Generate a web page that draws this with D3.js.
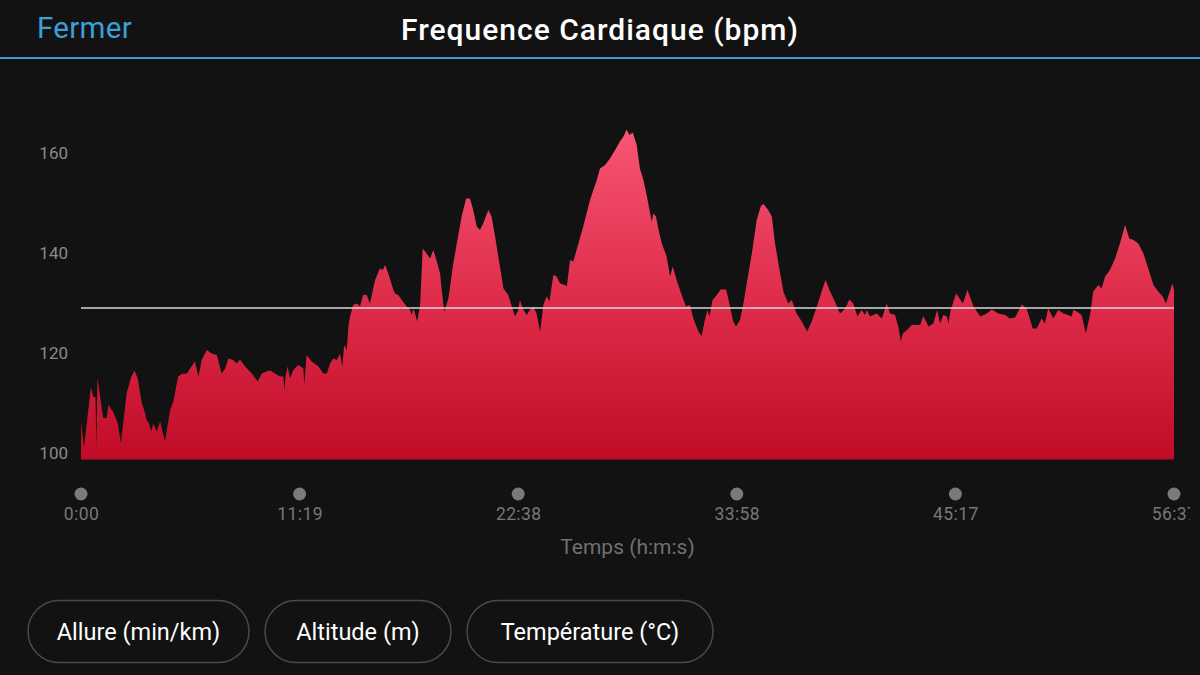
<!DOCTYPE html>
<html>
<head>
<meta charset="utf-8">
<script src="https://cdn.jsdelivr.net/npm/d3@7"></script>
<style>
  html, body { margin: 0; padding: 0; background: #121212; }
  svg { display: block; }
</style>
</head>
<body>
<svg id="chart" width="1200" height="675"></svg>
<script>
// ---- data ----
const timeSec = [0,9,31,38,45,48,51,64,69,80,85,100,114,124,142,155,166,176,189,199,204,211,218,225,235,246,253,261,277,287,302,313,329,339,354,365,375,391,406,422,437,448,458,473,484,494,510,531,549,562,577,587,603,618,629,632,636,642,650,660,675,691,694,701,717,738,753,764,774,784,795,805,812,818,826,
831,836,846,857,867,877,888,898,914,929,938,945,955,971,976,986,997,1012,1023,1028,1033,1038,1045,1054,1062,1074,1085,1095,1106,1116,1121,1129,1142,1157,1168,1183,1197,1209,1219,1230,1240,1250,1266,1276,1287,1297,1313,1328,1339,1349,1359,1364,1373,1385,1395,1406,1416,1427,1437,1447,1456,1468,1478,1489,1504,1510,1520,1530,1546,1561,1582,1603,
1613,1629,1644,1660,1675,1686,1696,1704,1715,1727,1737,1748,1758,1766,1774,1779,1787,1794,1805,1820,1831,1839,1851,1867,1880,1893,1903,1919,1929,1939,1947,1953,1963,1976,1988,2005,2017,2027,2036,2048,2058,2069,2085,2100,2113,2121,2136,2147,2157,2173,2183,2198,2209,2224,2240,2257,2271,2287,2302,2314,2328,2343,2359,2375,2388,2400,2413,2426,2437,2442,2452,2473,2489,2504,2514,2530,2540,2548,2554,
2567,2582,2608,2618,2634,2649,2661,2670,2680,2691,2696,2703,2720,2741,2755,2774,2795,2815,2831,2851,2872,2887,2903,2913,2924,2939,2958,2970,2986,2996,3006,3022,3037,3053,3068,3079,3084,3095,3110,3123,3136,3146,3162,3172,3183,3198,3214,3229,3245,3258,3271,3286,3302,3317,3333,3348,3362,3372,3384,3392,3397];
const heartRate = [106.3,101.0,113.2,111.2,111.2,101.2,115.0,109.2,107.0,107.0,109.6,108.2,106.0,102.0,112.0,115.0,116.5,115.0,110.0,108.0,106.6,106.0,104.3,105.9,104.3,106.3,104.3,102.3,108.6,110.3,115.3,115.8,115.9,116.9,118.3,115.3,118.6,120.6,119.9,119.6,115.9,116.9,118.9,118.6,117.9,118.7,117.3,115.9,114.3,115.9,116.3,116.5,115.9,115.3,115.3,112.6,115.4,117.3,114.9,116.6,117.6,116.9,113.6,119.6,118.3,117.3,115.9,115.9,117.9,118.9,118.6,119.9,117.3,121.6,120.6,
125.3,127.3,129.6,129.9,129.3,131.6,131.6,129.9,134.6,136.9,136.6,137.6,135.9,132.6,131.9,131.6,130.6,129.3,128.6,127.6,128.9,127.9,126.3,129.6,140.9,139.9,138.9,140.6,138.3,135.9,132.6,128.3,130.9,137.9,141.9,147.3,150.9,150.9,148.6,145.3,144.6,145.9,148.6,147.3,143.3,139.3,132.9,131.6,129.3,127.3,128.6,130.6,128.9,127.6,128.6,129.3,127.9,124.3,129.6,131.3,130.3,135.6,135.3,133.9,133.6,133.3,138.6,138.3,141.9,145.3,150.6,154.6,
156.9,157.6,158.9,160.6,162.3,163.3,164.7,163.6,164.1,161.6,156.9,154.6,151.6,148.9,146.3,147.9,147.3,144.9,141.9,139.3,135.3,137.3,134.6,131.6,129.3,129.6,126.9,124.3,123.4,126.6,128.6,127.3,130.6,131.6,132.7,132.7,129.3,126.3,125.3,126.6,129.6,133.9,139.9,146.6,149.4,149.8,148.6,147.3,141.9,135.9,132.3,129.9,130.6,127.9,126.3,124.3,126.3,129.3,132.3,134.6,132.3,130.3,127.9,128.9,130.7,129.9,127.3,128.6,127.6,128.6,127.3,127.9,126.9,129.9,127.9,127.6,125.3,122.3,123.9,
124.6,125.6,125.6,127.4,125.3,125.9,128.6,125.9,127.6,127.3,125.9,128.6,131.9,129.9,132.6,129.3,127.3,127.9,128.7,127.9,127.6,126.9,127.1,128.3,129.7,128.9,124.9,124.9,126.9,125.9,128.9,126.9,128.6,127.9,127.6,127.3,128.6,128.3,127.6,123.9,127.6,132.3,133.6,132.9,135.3,136.6,138.9,141.9,145.6,142.9,142.6,141.9,139.9,136.9,133.6,132.3,131.3,129.9,132.3,133.9,132.6];
const averageHR = 129;
const minHR = 98.7;
const yTickValues = [100, 120, 140, 160];
const xTickLabels = ["0:00", "11:19", "22:38", "33:58", "45:17", "56:37"];
const totalSec = 3397;
const titleText = "Frequence Cardiaque (bpm)";
const closeText = "Fermer";
const axisTitle = "Temps (h:m:s)";
const buttonLabels = ["Allure (min/km)", "Altitude (m)", "Température (°C)"];

// ---- drawing ----
const svg = d3.select("#chart");
const FONT = "Roboto, 'Noto Sans', sans-serif";

svg.append("rect").attr("width", 1200).attr("height", 675).attr("fill", "#121212");

// header
svg.append("text").attr("x", 37).attr("y", 38)
  .attr("font-family", FONT).attr("font-size", 29.5).attr("letter-spacing", 0.3).attr("fill", "#3d9fd8")
  .text(closeText);
svg.append("text").attr("x", 600).attr("y", 40).attr("text-anchor", "middle")
  .attr("font-family", FONT).attr("font-size", 30).attr("font-weight", 500).attr("letter-spacing", 1)
  .attr("fill", "#ffffff")
  .text(titleText);
svg.append("rect").attr("x", 0).attr("y", 57).attr("width", 1200).attr("height", 2).attr("fill", "#3a9bd5");

const x = d3.scaleLinear().domain([0, totalSec]).range([81, 1174]);
const y = d3.scaleLinear().domain([100, 160]).range([453, 153]);

const data = timeSec.map((t, i) => ({ t, v: heartRate[i] }));

const defs = svg.append("defs");
const grad = defs.append("linearGradient").attr("id", "hrGrad")
  .attr("gradientUnits", "userSpaceOnUse")
  .attr("x1", 0).attr("x2", 0).attr("y1", y(165)).attr("y2", y(minHR));
grad.append("stop").attr("offset", "0%").attr("stop-color", "#f85574");
grad.append("stop").attr("offset", "55%").attr("stop-color", "#dc2a48");
grad.append("stop").attr("offset", "100%").attr("stop-color", "#c10c27");

defs.append("clipPath").attr("id", "viewClip")
  .append("rect").attr("x", 0).attr("y", 0).attr("width", 1190).attr("height", 675);

const area = d3.area()
  .x(d => x(d.t))
  .y0(y(minHR))
  .y1(d => y(d.v))
  .curve(d3.curveLinear);

svg.append("path").datum(data).attr("d", area).attr("fill", "url(#hrGrad)");

// average line
svg.append("line")
  .attr("x1", x(0)).attr("x2", x(totalSec))
  .attr("y1", y(averageHR)).attr("y2", y(averageHR))
  .attr("stroke", "#d8d8d8").attr("stroke-width", 1.5);

// y axis labels
const yAxis = d3.axisLeft(y).tickValues(yTickValues).tickSize(0).tickPadding(0);
const gy = svg.append("g").attr("transform", "translate(68,0)").call(yAxis);
gy.select(".domain").remove();
gy.selectAll("text").attr("font-family", FONT).attr("font-size", 17).attr("fill", "#8a8a8a");

// x axis dots + labels
const xTickVals = xTickLabels.map((_, i) => i * totalSec / (xTickLabels.length - 1));
const gx = svg.append("g").attr("clip-path", "url(#viewClip)");
gx.selectAll("circle").data(xTickVals).join("circle")
  .attr("cx", d => x(d)).attr("cy", 494).attr("r", 6.5).attr("fill", "#7a7a7a");
const xAxis = d3.axisBottom(x).tickValues(xTickVals).tickFormat((d, i) => xTickLabels[i]).tickSize(0).tickPadding(0);
const gxa = gx.append("g").attr("transform", "translate(0,508)").call(xAxis);
gxa.select(".domain").remove();
gxa.selectAll("text").attr("font-family", FONT).attr("font-size", 17.5).attr("letter-spacing", 0.4).attr("fill", "#777777");

svg.append("text").attr("x", (x(0) + x(totalSec)) / 2).attr("y", 554).attr("text-anchor", "middle")
  .attr("font-family", FONT).attr("font-size", 21).attr("fill", "#707070")
  .text(axisTitle);

// buttons
const btnX = [28, 265, 467];
const btnW = [221, 186, 246];
const btn = svg.selectAll("g.btn").data(buttonLabels).join("g").attr("class", "btn");
btn.append("rect")
  .attr("x", (d, i) => btnX[i]).attr("y", 600.5).attr("width", (d, i) => btnW[i]).attr("height", 62)
  .attr("rx", 31).attr("ry", 31)
  .attr("fill", "none").attr("stroke", "#4a4a4a").attr("stroke-width", 1.5);
btn.append("text")
  .attr("x", (d, i) => btnX[i] + btnW[i] / 2).attr("y", 640).attr("text-anchor", "middle")
  .attr("font-family", FONT).attr("font-size", 23.5).attr("fill", "#ffffff")
  .text(d => d);
</script>
</body>
</html>
